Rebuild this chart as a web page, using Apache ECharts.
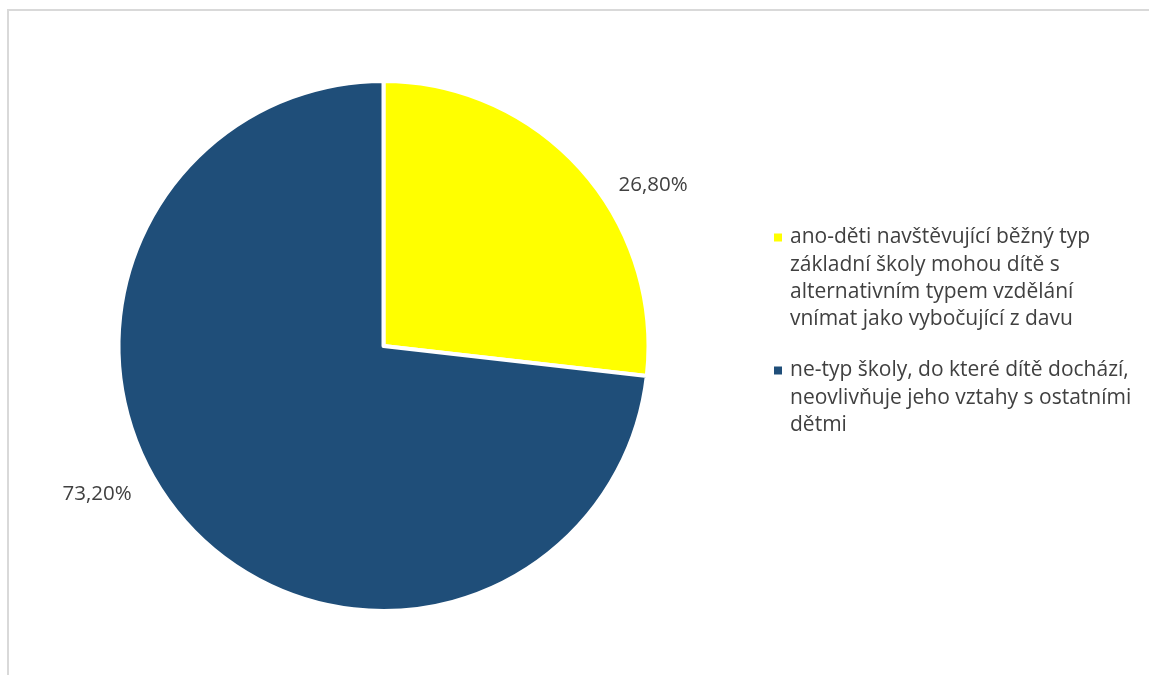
<!DOCTYPE html>
<html>
<head>
<meta charset="utf-8">
<script src="https://cdn.jsdelivr.net/npm/echarts@6/dist/echarts.min.js"></script>
<style>
  html, body { margin: 0; padding: 0; background: #ffffff; }
  #chart { width: 1149px; height: 675px; }
</style>
</head>
<body>
<div id="chart"></div>
<script>
// Survey answers: share of respondents per answer
const categories = [
  'ano-děti navštěvující běžný typ základní školy mohou dítě s alternativním typem vzdělání vnímat jako vybočující z davu',
  'ne-typ školy, do které dítě dochází, neovlivňuje jeho vztahy s ostatními dětmi'
];
const values = [26.8, 73.2];
const valueLabels = ['26,80%', '73,20%'];
// legend text, broken into lines
const legendLines = [
  ['ano-děti navštěvující běžný typ', 'základní školy mohou dítě s', 'alternativním typem vzdělání', 'vnímat jako vybočující z davu'],
  ['ne-typ školy, do které dítě dochází,', 'neovlivňuje jeho vztahy s ostatními', 'dětmi']
];
const colors = ['#FFFF00', '#1F4E79'];

const FONT = 'Open Sans';
const LINE_H = 27.3;
const TEXT_COLOR = '#404040';

// pie geometry
const CX = 383.5, CY = 346, R = 263, BORDER = 4;
// label anchor points, in units of the radius from the pie centre
const labelAnchors = [[1.025, -0.61], [-1.089, 0.565]];

const chart = echarts.init(document.getElementById('chart'), null, { renderer: 'canvas' });

// One legend per answer. The legend centres its text block on the marker,
// so blank lines are put in front to bring the first text line level with it.
function legendFor(i, iconCenterY) {
  const n = legendLines[i].length;
  const total = 2 * n - 1;
  const text = new Array(n - 1).fill('').concat(legendLines[i]).join('\n');
  return {
    show: true,
    orient: 'vertical',
    left: 774,
    top: iconCenterY - total * LINE_H / 2,
    padding: 0,
    icon: 'rect',
    itemWidth: 8,
    itemHeight: 8,
    itemStyle: { borderWidth: 0 },
    selectedMode: false,
    data: [categories[i]],
    formatter: function () { return text; },
    textStyle: {
      fontFamily: FONT,
      fontSize: 21,
      lineHeight: LINE_H,
      color: TEXT_COLOR,
      padding: [0, 0, 0, 3]
    }
  };
}

const option = {
  backgroundColor: '#ffffff',
  animation: false,
  color: colors,
  graphic: [{
    type: 'rect',
    silent: true,
    shape: { x: 8, y: 10, width: 1200, height: 720 },
    style: { fill: 'none', stroke: '#d9d9d9', lineWidth: 2 }
  }],
  legend: [legendFor(0, 237.5), legendFor(1, 370.5)],
  series: [{
    type: 'pie',
    center: [CX, CY],
    radius: R + BORDER / 2,
    startAngle: 90,
    clockwise: true,
    avoidLabelOverlap: false,
    itemStyle: { borderColor: '#ffffff', borderWidth: BORDER },
    emphasis: { disabled: true },
    label: {
      show: true,
      position: 'outside',
      fontFamily: FONT,
      fontSize: 20.5,
      color: TEXT_COLOR,
      formatter: function (p) { return valueLabels[p.dataIndex]; }
    },
    labelLine: { show: false },
    labelLayout: function (p) {
      const a = labelAnchors[p.dataIndex];
      return {
        x: CX + a[0] * R,
        y: CY + a[1] * R,
        align: 'center',
        verticalAlign: 'middle'
      };
    },
    data: categories.map(function (name, i) {
      return { name: name, value: values[i] };
    })
  }]
};

chart.setOption(option);
</script>
</body>
</html>
